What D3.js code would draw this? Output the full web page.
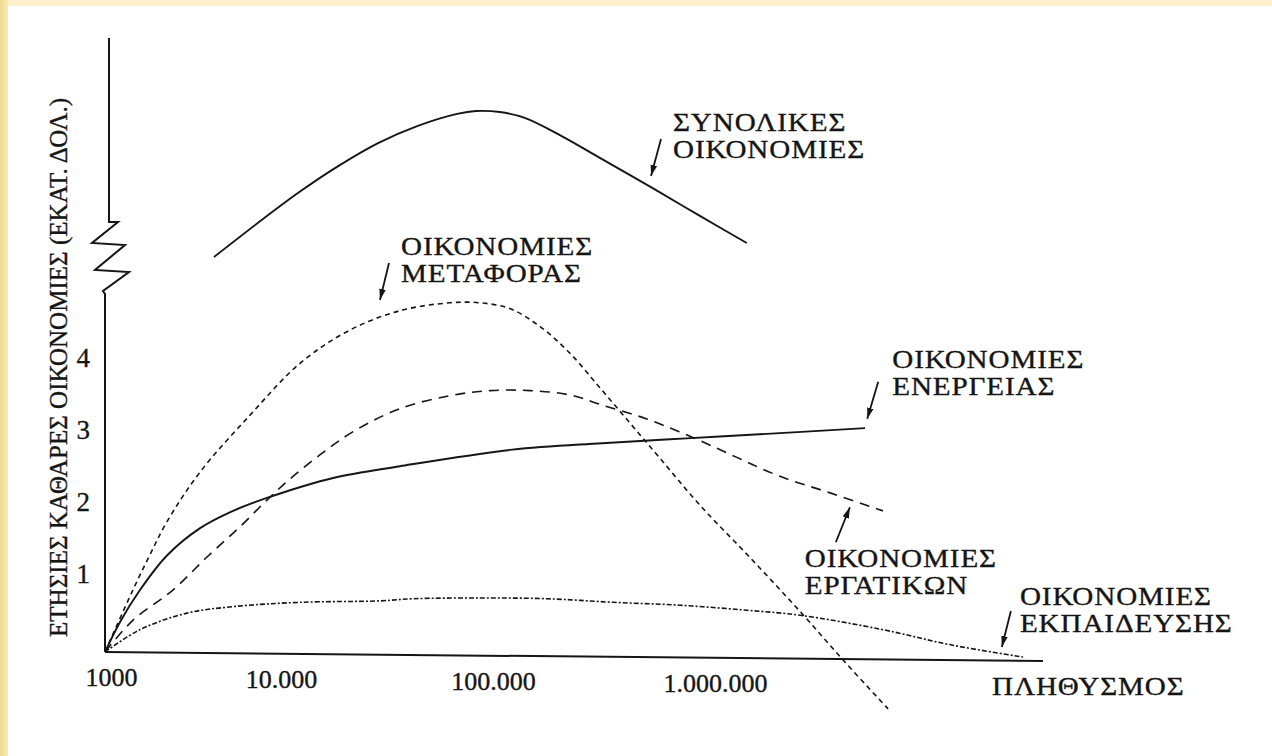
<!DOCTYPE html>
<html>
<head>
<meta charset="utf-8">
<script src="https://cdn.jsdelivr.net/npm/d3@7"></script>
<style>
body { margin: 0; background: #fff; }
</style>
</head>
<body>
<div id="chart"></div>
<script>
// x axis: population (log), y axis: annual net savings (million $)
var popTicks = [1000, 10000, 100000, 1000000];
var popTickLabels = ["1000", "10.000", "100.000", "1.000.000"];
var savingTicks = [1, 2, 3, 4];
var popAxisEnd = 30000000;

// ΣΥΝΟΛΙΚΕΣ ΟΙΚΟΝΟΜΙΕΣ (drawn above the axis break)
var totalPop = [4160, 7500, 12200, 18600, 28700, 43900, 67700, 83200, 107500, 139000, 200000, 303000, 531000, 855000, 1390000];
var totalSavings = [6.49, 7.81, 8.94, 9.92, 10.79, 11.43, 11.89, 12.0, 11.96, 11.74, 11.09, 10.23, 9.06, 8.04, 7.02];

// ΟΙΚΟΝΟΜΙΕΣ ΜΕΤΑΦΟΡΑΣ
var transportPop = [1000, 1440, 1800, 2250, 3470, 6670, 12300, 21100, 36400, 62600, 86800, 119000, 163000, 222000, 303000, 414000, 565000, 855000, 1440000, 2420000, 3850000, 6020000];
var transportSavings = [0, 0.86, 1.35, 1.81, 2.5, 3.29, 4.01, 4.47, 4.74, 4.85, 4.85, 4.77, 4.52, 4.15, 3.67, 3.18, 2.69, 2.04, 1.31, 0.56, -0.14, -0.79];

// ΟΙΚΟΝΟΜΙΕΣ ΕΡΓΑΤΙΚΩΝ
var laborPop = [1000, 1440, 2430, 3800, 5850, 8320, 11000, 15300, 21900, 36400, 62600, 96800, 147000, 222000, 310000, 489000, 780000, 1240000, 1960000, 3300000, 5710000];
var laborSavings = [0, 0.44, 0.86, 1.32, 1.74, 2.11, 2.40, 2.74, 3.06, 3.38, 3.56, 3.63, 3.63, 3.57, 3.43, 3.24, 2.99, 2.71, 2.44, 2.21, 1.96];

// ΟΙΚΟΝΟΜΙΕΣ ΕΝΕΡΓΕΙΑΣ
var energyPop = [1000, 1220, 1580, 2250, 3470, 5340, 8320, 17800, 36400, 122000, 310000, 780000, 1960000, 4740000];
var energySavings = [0, 0.42, 0.86, 1.34, 1.72, 1.96, 2.14, 2.42, 2.58, 2.81, 2.90, 2.97, 3.04, 3.11];

// ΟΙΚΟΝΟΜΙΕΣ ΕΚΠΑΙΔΕΥΣΗΣ
var educationPop = [1000, 1580, 2920, 5340, 12300, 29300, 42000, 86800, 175000, 348000, 695000, 1390000, 2420000, 5710000, 11500000, 24400000];
var educationSavings = [0, 0.31, 0.54, 0.63, 0.69, 0.71, 0.74, 0.75, 0.74, 0.69, 0.65, 0.58, 0.51, 0.31, 0.10, -0.07];

// labels: text lines and where the arrow points (population, saving)
var labelLines = [
    ["ΣΥΝΟΛΙΚΕΣ", "ΟΙΚΟΝΟΜΙΕΣ"],
    ["ΟΙΚΟΝΟΜΙΕΣ", "ΜΕΤΑΦΟΡΑΣ"],
    ["ΟΙΚΟΝΟΜΙΕΣ", "ΕΝΕΡΓΕΙΑΣ"],
    ["ΟΙΚΟΝΟΜΙΕΣ", "ΕΡΓΑΤΙΚΩΝ"],
    ["ΟΙΚΟΝΟΜΙΕΣ", "ΕΚΠΑΙΔΕΥΣΗΣ"]
];
var labelPop = [515000, 29300, 4850000, 4050000, 19600000];
var labelSaving = [9.55, 4.89, 3.24, 2.01, 0.07];

function Chart() {
    var self = this;
    this.width = 1272;
    this.height = 756;
    this.svg = d3.select("#chart").append("svg")
        .attr("width", this.width).attr("height", this.height)
        .style("display", "block");

    var font = "'Liberation Serif', 'Times New Roman', serif";
    var ink = "#151515";

    // piecewise log scale (the original drawing is not evenly spaced)
    var x = d3.scaleLog().domain(popTicks).range([105, 281, 493, 715]);
    var y = d3.scaleLinear().domain([0, 4]).range([652, 364]);
    var yTop = d3.scaleLinear().domain([6, 12]).range([270, 111]);

    // page frame
    var defs = self.svg.append("defs");
    var grad = defs.append("linearGradient").attr("id", "edge").attr("x1", 0).attr("x2", 1);
    grad.append("stop").attr("offset", 0).attr("stop-color", "#efd990");
    grad.append("stop").attr("offset", 1).attr("stop-color", "#f8eabc");
    self.svg.append("rect").attr("width", self.width).attr("height", self.height).attr("fill", "#fbf0c9");
    self.svg.append("rect").attr("width", 8).attr("height", self.height).attr("fill", "url(#edge)");
    self.svg.append("rect").attr("x", 8).attr("y", 6)
        .attr("width", self.width - 8).attr("height", self.height - 6).attr("fill", "#fff");

    defs.append("marker").attr("id", "arrow")
        .attr("viewBox", "0 0 10 10").attr("refX", 10).attr("refY", 5)
        .attr("markerUnits", "userSpaceOnUse")
        .attr("markerWidth", 11).attr("markerHeight", 11)
        .attr("orient", "auto")
        .append("path").attr("d", "M0,2 L10,5 L0,8 Z").attr("fill", ink);

    // broken y axis
    var x0 = x(popTicks[0]);
    var axisPath = [[x0 + 4, 38], [x0 + 4, 222], [x0 + 13, 222], [x0 - 13, 243], [x0 + 20, 245],
        [x0 - 10, 270], [x0 + 24, 272], [x0 - 2, 291], [x0, 294], [x0, y(0)]];
    self.svg.append("path")
        .attr("d", d3.line()(axisPath))
        .attr("fill", "none").attr("stroke", ink).attr("stroke-width", 2);

    // slightly tilted x axis, as in the scan
    self.svg.append("line")
        .attr("x1", x0).attr("y1", y(0))
        .attr("x2", x(popAxisEnd)).attr("y2", y(0) + 9)
        .attr("stroke", ink).attr("stroke-width", 2);

    var tilt = function (px) { return (px - x0) * 9 / (x(popAxisEnd) - x0); };

    var heavy = function (sel) {
        sel.attr("font-family", font).attr("fill", ink)
            .attr("stroke", ink).attr("stroke-width", 0.35);
    };

    var xAxis = self.svg.append("g")
        .attr("transform", "translate(0," + y(0) + ")")
        .call(d3.axisBottom(x).tickValues(popTicks)
            .tickFormat(function (d, i) { return popTickLabels[i]; })
            .tickSize(0).tickPadding(16));
    xAxis.select(".domain").remove();
    xAxis.selectAll("text")
        .attr("y", function (d) { return 16 + tilt(x(d)); })
        .attr("dx", function (d, i) { return i === 0 ? 6 : 0; })
        .attr("font-size", 26).call(heavy);

    var yAxis = self.svg.append("g")
        .attr("transform", "translate(90,0)")
        .call(d3.axisLeft(y).tickValues(savingTicks).tickFormat(d3.format("d")).tickSize(0).tickPadding(0));
    yAxis.select(".domain").remove();
    yAxis.selectAll("text")
        .attr("y", -6)
        .attr("font-size", 27).call(heavy);

    // axis titles
    self.svg.append("text")
        .attr("transform", "translate(67,367.5) rotate(-90)")
        .attr("text-anchor", "middle")
        .attr("font-size", 25).call(heavy)
        .attr("textLength", 539).attr("lengthAdjust", "spacingAndGlyphs")
        .text("ΕΤΗΣΙΕΣ ΚΑΘΑΡΕΣ ΟΙΚΟΝΟΜΙΕΣ (ΕΚΑΤ. ΔΟΛ.)");

    self.svg.append("text")
        .attr("transform", "translate(992,695) scale(1.12,1)")
        .attr("font-size", 26).attr("letter-spacing", 0.8).call(heavy)
        .text("ΠΛΗΘΥΣΜΟΣ");

    // curves
    var curve = function (pops, vals, ys) {
        return d3.line().curve(d3.curveCatmullRom.alpha(0.5))(pops.map(function (p, i) {
            return [x(p), ys(vals[i])];
        }));
    };
    var series = [
        { pop: totalPop, val: totalSavings, ys: yTop, dash: null },
        { pop: energyPop, val: energySavings, ys: y, dash: null },
        { pop: transportPop, val: transportSavings, ys: y, dash: "5,4" },
        { pop: laborPop, val: laborSavings, ys: y, dash: "10,7" },
        { pop: educationPop, val: educationSavings, ys: y, dash: "5,2,2,2" }
    ];
    self.svg.selectAll("path.series").data(series).enter().append("path")
        .attr("class", "series")
        .attr("d", function (s) { return curve(s.pop, s.val, s.ys); })
        .attr("fill", "none").attr("stroke", ink)
        .attr("stroke-width", function (s) { return s.dash ? 1.6 : 1.9; })
        .attr("stroke-dasharray", function (s) { return s.dash; });

    // labels with arrows
    var tail = [[10, -37], [9, -37], [11, -37], [-14, 35], [9, -36]];
    var textAt = [[22, -45], [21, -45], [25, -51], [-45, 60], [18, -42]];
    labelLines.forEach(function (lines, i) {
        var ys = i === 0 ? yTop : y;
        var tx = x(labelPop[i]), ty = ys(labelSaving[i]);
        self.svg.append("line")
            .attr("x1", tx + tail[i][0]).attr("y1", ty + tail[i][1])
            .attr("x2", tx).attr("y2", ty)
            .attr("stroke", ink).attr("stroke-width", 1.8)
            .attr("marker-end", "url(#arrow)");
        var t = self.svg.append("text")
            .attr("transform", "translate(" + (tx + textAt[i][0]) + "," + (ty + textAt[i][1]) + ") scale(1.12,1)")
            .attr("font-size", 26).attr("letter-spacing", 0.8).call(heavy);
        lines.forEach(function (line, j) {
            t.append("tspan").attr("x", 0).attr("y", j * 27).text(line);
        });
    });
}

document.addEventListener("DOMContentLoaded", function () {
    new Chart();
});
</script>
</body>
</html>
